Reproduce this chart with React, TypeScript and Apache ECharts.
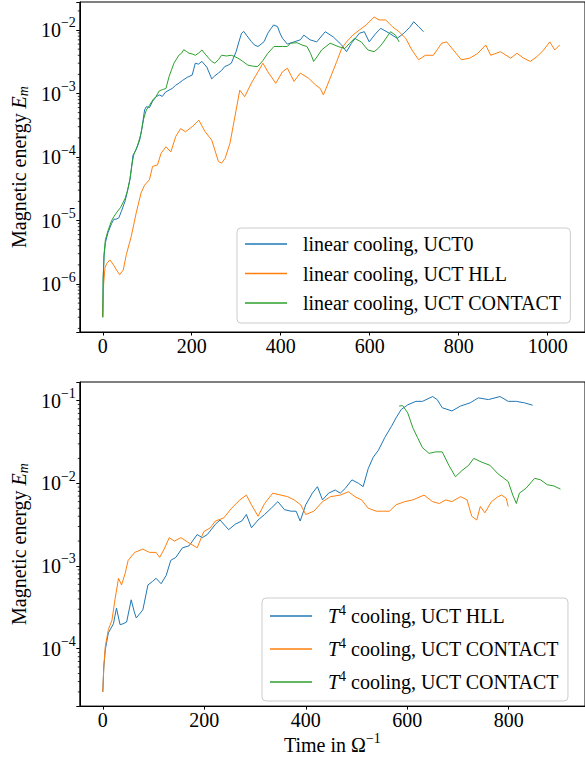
import React, { useEffect, useRef } from 'react';
import * as echarts from 'echarts';

const FONT = '"Liberation Serif", "Times New Roman", Times, serif';
const BLUE = '#1f77b4';
const ORANGE = '#ff7f0e';
const GREEN = '#2ca02c';

// x tick labels
const xTicksTop = [0, 200, 400, 600, 800, 1000];
const xTicksBottom = [0, 200, 400, 600, 800];

// Top panel: linear cooling  [time, Em]
const linUct0: [number, number][] = [
  [0, 3e-7], [1, 1.2e-6], [3, 2.8e-6], [6, 4.5e-6], [12, 6.5e-6], [20, 9e-6], [25, 1.05e-5], [30, 1.05e-5],
  [36, 1.1e-5], [42, 1.4e-5], [50, 2e-5], [55, 2.8e-5], [61, 4.4e-5], [65, 7e-5], [68, 1.07e-4], [75, 1.3e-4],
  [83, 1.85e-4], [88, 2.8e-4], [94, 5.5e-4], [98, 6.2e-4], [105, 6e-4], [112, 7.5e-4], [120, 8.9e-4], [127, 9.5e-4],
  [134, 9e-4], [141, 1.05e-3], [149, 1.13e-3], [156, 1.2e-3], [164, 1.35e-3], [171, 1.45e-3], [179, 1.6e-3],
  [190, 1.8e-3], [201, 1.95e-3], [208, 3e-3], [215, 2.9e-3], [223, 3.2e-3], [234, 2.6e-3], [245, 1.7e-3],
  [252, 1.9e-3], [260, 2.1e-3], [267, 2.3e-3], [274, 2.65e-3], [282, 2.8e-3], [289, 3e-3], [295, 3.8e-3],
  [300, 4.6e-3], [306, 6.5e-3], [312, 8.9e-3], [317, 9.5e-3], [323, 8.3e-3], [334, 6.6e-3], [341, 5.8e-3],
  [349, 5.5e-3], [356, 6e-3], [363, 6.6e-3], [371, 8.9e-3], [378, 1.05e-2], [384, 1.2e-2], [393, 1.13e-2],
  [398, 9e-3], [404, 7.4e-3], [415, 6e-3], [430, 6.5e-3], [444, 7e-3], [452, 8.3e-3], [466, 7e-3], [481, 6.5e-3],
  [500, 9.4e-3], [518, 7.8e-3], [537, 5.8e-3], [548, 4.55e-3], [559, 6.2e-3], [577, 8.9e-3], [588, 9.4e-3],
  [599, 6.5e-3], [614, 8.9e-3], [625, 1.06e-2], [644, 8.9e-3], [662, 7.4e-3], [677, 8.9e-3], [690, 1.1e-2],
  [699, 1.35e-2], [710, 1.13e-2], [721, 9.4e-3],
];

const linHll: [number, number][] = [
  [0, 3e-7], [2, 1e-6], [5, 1.8e-6], [9, 2.1e-6], [16, 2.4e-6], [24, 2e-6], [31, 1.66e-6], [38, 1.4e-6],
  [46, 1.66e-6], [53, 2.9e-6], [64, 5.6e-6], [75, 1.3e-5], [86, 2.7e-5], [94, 3.6e-5], [105, 4.4e-5],
  [112, 7.1e-5], [123, 7.5e-5], [131, 1.14e-4], [142, 1.45e-4], [153, 1.2e-4], [164, 2.1e-4], [175, 2.8e-4],
  [186, 2.5e-4], [201, 3e-4], [216, 3.8e-4], [230, 2.5e-4], [245, 1.85e-4], [260, 8.5e-5], [267, 8e-5],
  [275, 9.5e-5], [286, 1.65e-4], [297, 4.3e-4], [308, 1.13e-3], [319, 8.9e-4], [334, 1.45e-3], [349, 2.2e-3],
  [360, 3e-3], [371, 2.2e-3], [389, 1.45e-3], [404, 2.2e-3], [415, 2.5e-3], [430, 1.55e-3], [444, 2.1e-3],
  [463, 1.73e-3], [478, 1.37e-3], [489, 1.2e-3], [496, 9.5e-4], [511, 1.73e-3], [526, 3.2e-3], [537, 5.1e-3],
  [548, 6.5e-3], [562, 8.3e-3], [577, 1e-2], [592, 1.2e-2], [610, 1.6e-2], [621, 1.44e-2], [636, 1.44e-2],
  [651, 1.13e-2], [666, 9.4e-3], [681, 7.4e-3], [695, 4.85e-3], [710, 3.4e-3], [725, 4e-3], [743, 4e-3],
  [762, 6.2e-3], [773, 6.5e-3], [788, 4.85e-3], [806, 3.4e-3], [825, 3.6e-3], [843, 4.3e-3], [861, 5.8e-3],
  [872, 4e-3], [894, 4.55e-3], [917, 3.6e-3], [931, 4.3e-3], [946, 3.6e-3], [961, 3.2e-3], [976, 3.8e-3],
  [991, 4.85e-3], [1005, 6.5e-3], [1016, 4.85e-3], [1027, 5.8e-3],
];

const linContact: [number, number][] = [
  [0, 3e-7], [1, 1.3e-6], [3, 3e-6], [6, 5e-6], [12, 7e-6], [20, 1e-5], [25, 1.15e-5], [30, 1.3e-5],
  [40, 1.6e-5], [50, 2.2e-5], [56, 3e-5], [61, 4.4e-5], [66, 8e-5], [70, 1.1e-4], [78, 1.5e-4], [85, 2.2e-4],
  [92, 4e-4], [98, 5.5e-4], [105, 6.5e-4], [113, 8e-4], [120, 9e-4], [127, 1.1e-3], [134, 1.15e-3],
  [142, 1.2e-3], [149, 1.84e-3], [155, 2.4e-3], [160, 3e-3], [166, 3.5e-3], [171, 4e-3], [177, 4.3e-3],
  [182, 4.9e-3], [188, 4.6e-3], [194, 4.3e-3], [201, 4.2e-3], [208, 4e-3], [215, 4.3e-3], [223, 4.85e-3],
  [230, 4.2e-3], [238, 3.6e-3], [245, 3.2e-3], [252, 3e-3], [260, 3.4e-3], [267, 4e-3], [278, 3.9e-3],
  [289, 4e-3], [297, 3.8e-3], [304, 3.6e-3], [315, 3.2e-3], [326, 2.8e-3], [337, 2.7e-3], [348, 2.65e-3],
  [360, 3.3e-3], [371, 4.3e-3], [385, 5.5e-3], [404, 5.5e-3], [415, 5.5e-3], [422, 6.2e-3], [437, 6.3e-3],
  [448, 5.8e-3], [459, 5.5e-3], [467, 4.3e-3], [474, 3.2e-3], [483, 3.9e-3], [492, 4.85e-3], [511, 6.2e-3],
  [529, 5.5e-3], [544, 5.1e-3], [555, 6.2e-3], [566, 7.4e-3], [581, 6.5e-3], [596, 4.85e-3], [610, 4.55e-3],
  [620, 5.2e-3], [629, 6.2e-3], [647, 9.4e-3], [658, 8.3e-3], [666, 6.5e-3],
];

// Bottom panel: T^4 cooling  [time, Em]
const t4Hll: [number, number][] = [
  [0, 3e-5], [2, 6e-5], [5, 9.8e-5], [11, 1.55e-4], [21, 2e-4], [27, 3.1e-4], [34, 1.95e-4], [40, 2e-4],
  [47, 2.1e-4], [56, 3.9e-4], [62, 2.8e-4], [66, 2.35e-4], [79, 2.95e-4], [89, 5.9e-4], [98, 6.5e-4],
  [105, 7.1e-4], [115, 6.1e-4], [125, 7.7e-4], [134, 1.17e-3], [144, 1.27e-3], [157, 1.66e-3], [170, 1.75e-3],
  [186, 2.4e-3], [196, 2.2e-3], [206, 2.4e-3], [222, 3.2e-3], [231, 3.6e-3], [248, 2.75e-3], [261, 3.2e-3],
  [274, 3.5e-3], [283, 4.2e-3], [293, 2.9e-3], [306, 3.6e-3], [319, 4.2e-3], [332, 5e-3], [345, 6e-3],
  [358, 4.8e-3], [371, 4.6e-3], [381, 4.6e-3], [389, 3.5e-3], [400, 5.5e-3], [413, 7.6e-3], [423, 9.1e-3],
  [433, 6.3e-3], [445, 7.6e-3], [458, 8.3e-3], [468, 7.6e-3], [478, 8.7e-3], [491, 1.1e-2], [504, 1e-2],
  [513, 9.1e-3], [523, 1.5e-2], [533, 2.07e-2], [543, 2.5e-2], [556, 3.6e-2], [569, 4.9e-2], [578, 6.2e-2],
  [588, 7.8e-2], [601, 8.9e-2], [617, 9.8e-2], [630, 9.8e-2], [650, 1.12e-1], [659, 1.03e-1], [669, 8.2e-2],
  [688, 7.5e-2], [705, 8.6e-2], [724, 9.4e-2], [740, 1.08e-1], [760, 1.03e-1], [783, 1.12e-1], [799, 9.8e-2],
  [815, 9.8e-2], [831, 9.4e-2], [847, 8.8e-2],
];

const t4Contact: [number, number][] = [
  [0, 3e-5], [2, 6e-5], [5, 1.07e-4], [11, 1.7e-4], [18, 2.2e-4], [24, 3.9e-4], [31, 7.1e-4], [37, 5.9e-4],
  [44, 8.1e-4], [50, 1.17e-3], [63, 1.46e-3], [79, 1.6e-3], [92, 1.46e-3], [105, 1.46e-3], [112, 1.27e-3],
  [121, 1.6e-3], [131, 2.2e-3], [141, 2e-3], [154, 2.2e-3], [170, 1.9e-3], [186, 1.66e-3], [199, 2.6e-3],
  [212, 2.9e-3], [222, 3.5e-3], [238, 3.8e-3], [254, 5e-3], [270, 6.3e-3], [283, 7.2e-3], [293, 5.5e-3],
  [306, 4e-3], [319, 5.7e-3], [335, 7.6e-3], [351, 7.2e-3], [364, 6.9e-3], [377, 6.3e-3], [390, 5.5e-3],
  [400, 4.2e-3], [416, 4.6e-3], [433, 6e-3], [449, 6.9e-3], [468, 7.2e-3], [484, 7.9e-3], [497, 6.9e-3],
  [510, 6.3e-3], [523, 5e-3], [539, 4.6e-3], [552, 4.6e-3], [565, 4.6e-3], [578, 5.5e-3], [595, 6e-3],
  [611, 6.3e-3], [633, 7.2e-3], [650, 6e-3], [663, 5.7e-3], [676, 6.3e-3], [688, 6e-3], [705, 6.9e-3],
  [718, 6.3e-3], [727, 4e-3], [737, 3.6e-3], [744, 5.25e-3], [753, 4.4e-3], [766, 6e-3], [779, 6.9e-3],
  [786, 7.2e-3], [795, 6.6e-3], [799, 5.25e-3],
];

const t4Contact2: [number, number][] = [
  [584, 8.6e-2], [591, 8.7e-2], [601, 7.1e-2], [611, 4.7e-2], [620, 3.6e-2], [630, 2.7e-2], [643, 2.3e-2],
  [656, 2.4e-2], [669, 2.4e-2], [682, 1.65e-2], [695, 1.2e-2], [708, 1.43e-2], [721, 1.65e-2], [731, 2e-2],
  [747, 1.8e-2], [763, 1.65e-2], [779, 1.3e-2], [799, 1.05e-2], [808, 7.2e-3], [815, 5.7e-3], [821, 7.6e-3],
  [834, 8.7e-3], [851, 1.15e-2], [863, 1.1e-2], [876, 9.6e-3], [889, 9.3e-3], [902, 8.5e-3],
];

const topNames = ['linear cooling, UCT0', 'linear cooling, UCT HLL', 'linear cooling, UCT CONTACT'];
const bottomNames = ['T4 cooling, UCT HLL', 'T4 cooling, UCT CONTACT', 'T4 cooling, UCT CONTACT (2)'];
const bottomLabels: Record<string, string> = {
  'T4 cooling, UCT HLL': '{t|T}{s|4}{n| cooling, UCT HLL}',
  'T4 cooling, UCT CONTACT': '{t|T}{s|4}{n| cooling, UCT CONTACT}',
  'T4 cooling, UCT CONTACT (2)': '{t|T}{s|4}{n| cooling, UCT CONTACT}',
};

const TOP_X = [-51.6, 1084];
const BOT_X = [-45.3, 950.3];
const TOP_Y = [1.755e-7, 0.0276];
const BOT_Y = [2.02e-5, 0.168];

function minorValues(lo: number, hi: number): number[] {
  const out: number[] = [];
  for (let k = -8; k <= 0; k++) {
    for (let m = 2; m <= 9; m++) {
      const v = m * Math.pow(10, k);
      if (v >= lo && v <= hi) out.push(v);
    }
  }
  return out;
}

const powLabel = (v: number) => {
  const e = Math.log10(v);
  const r = Math.round(e);
  if (Math.abs(e - r) > 1e-6) return '';
  return `{b|10}{s|${r < 0 ? '\u2212' : ''}${Math.abs(r)}}`;
};

const supRich = {
  b: { fontFamily: FONT, fontSize: 20, lineHeight: 20, color: '#000' },
  s: { fontFamily: FONT, fontSize: 14, lineHeight: 14, color: '#000', padding: [0, 0, 14, 0] },
};

function xAxisCfg(grid: number, ext: number[], ticks: number[], withName: boolean) {
  return {
    gridIndex: grid,
    type: 'value',
    min: ext[0],
    max: ext[1],
    axisLine: { show: true, onZero: false, lineStyle: { color: '#000', width: 1 } },
    axisTick: { show: true, length: 3.5, lineStyle: { color: '#000', width: 1 }, customValues: ticks },
    axisLabel: {
      customValues: ticks,
      formatter: (v: number) => String(Math.round(v)),
      fontFamily: FONT, fontSize: 20, lineHeight: 20, color: '#000', margin: 4,
    },
    splitLine: { show: false },
    ...(withName
      ? {
          name: 'Time in \u03A9{s|\u22121}',
          nameLocation: 'middle',
          nameGap: 20,
          nameTextStyle: {
            fontFamily: FONT, fontSize: 20, lineHeight: 28, color: '#000',
            rich: { s: { fontFamily: FONT, fontSize: 14, lineHeight: 14, color: '#000', padding: [0, 0, 14, 0] } },
          },
        }
      : {}),
  };
}

function yAxisCfg(grid: number, ext: number[]) {
  return {
    gridIndex: grid,
    type: 'log',
    logBase: 10,
    min: ext[0],
    max: ext[1],
    axisLine: { show: true, onZero: false, lineStyle: { color: '#000', width: 1 } },
    axisTick: { show: true, length: 3.5, lineStyle: { color: '#000', width: 1 } },
    axisLabel: { formatter: powLabel, rich: supRich, margin: 4, color: '#000' },
    splitLine: { show: false },
    minorTick: { show: false },
    name: 'Magnetic energy {i|E}{m|m}',
    nameLocation: 'middle',
    nameGap: 48,
    nameTextStyle: {
      fontFamily: FONT, fontSize: 20, lineHeight: 22, color: '#000',
      rich: {
        i: { fontFamily: FONT, fontSize: 20, lineHeight: 22, fontStyle: 'italic', color: '#000' },
        m: { fontFamily: FONT, fontSize: 14, lineHeight: 14, fontStyle: 'italic', color: '#000', padding: [8, 0, 0, 0] },
      },
    },
  };
}

function lineSeries(name: string, data: [number, number][], color: string, idx: number) {
  return {
    type: 'line',
    name,
    xAxisIndex: idx,
    yAxisIndex: idx,
    data,
    symbol: 'none',
    showSymbol: false,
    lineStyle: { width: 1, color },
    itemStyle: { color },
    color,
    clip: true,
    silent: true,
  };
}

function minorSeries(idx: number, xmin: number, ext: number[]) {
  return {
    type: 'custom',
    xAxisIndex: idx,
    yAxisIndex: idx,
    silent: true,
    clip: false,
    z: 5,
    data: minorValues(ext[0], ext[1]).map((v) => [xmin, v]),
    renderItem: (_p: any, api: any) => {
      const p = api.coord([api.value(0), api.value(1)]);
      return {
        type: 'line',
        shape: { x1: p[0] - 2, y1: p[1], x2: p[0], y2: p[1] },
        style: { stroke: '#000', lineWidth: 0.8 },
      };
    },
  };
}

const legendBase = {
  orient: 'vertical',
  icon: 'rect',
  itemWidth: 42,
  itemHeight: 1.4,
  backgroundColor: 'rgba(255,255,255,0.8)',
  borderColor: '#cccccc',
  borderWidth: 1,
  borderRadius: 4,
  selectedMode: false,
};

export default function App() {
  const ref = useRef<HTMLDivElement>(null);
  useEffect(() => {
    if (!ref.current) return;
    const chart = echarts.init(ref.current, undefined, { renderer: 'svg' });
    const option: any = {
      animation: false,
      backgroundColor: '#fff',
      grid: [
        { left: 76, top: 2, width: 513, height: 330, show: true, borderColor: '#000', borderWidth: 1, containLabel: false },
        { left: 76, top: 382, width: 512, height: 329, show: true, borderColor: '#000', borderWidth: 1, containLabel: false },
      ],
      xAxis: [xAxisCfg(0, TOP_X, xTicksTop, false), xAxisCfg(1, BOT_X, xTicksBottom, true)],
      yAxis: [yAxisCfg(0, TOP_Y), yAxisCfg(1, BOT_Y)],
      legend: [
        {
          ...legendBase,
          left: 237,
          top: 228,
          data: topNames,
          itemGap: 7.5,
          padding: [5, 9, 9, 8],
          textStyle: { fontFamily: FONT, fontSize: 20, lineHeight: 22, color: '#000', padding: [0, 0, 0, 11] },
        },
        {
          ...legendBase,
          left: 262,
          top: 598,
          data: bottomNames,
          itemGap: 7,
          padding: [5, 9, 6, 8],
          formatter: (n: string) => bottomLabels[n] || n,
          textStyle: {
            fontFamily: FONT, fontSize: 20, lineHeight: 26, color: '#000', padding: [0, 0, 0, 11],
            rich: {
              t: { fontFamily: FONT, fontSize: 20, lineHeight: 26, fontStyle: 'italic', color: '#000' },
              s: { fontFamily: FONT, fontSize: 14, lineHeight: 14, color: '#000', padding: [0, 0, 12, 0] },
              n: { fontFamily: FONT, fontSize: 20, lineHeight: 26, color: '#000' },
            },
          },
        },
      ],
      series: [
        lineSeries(topNames[0], linUct0, BLUE, 0),
        lineSeries(topNames[1], linHll, ORANGE, 0),
        lineSeries(topNames[2], linContact, GREEN, 0),
        lineSeries(bottomNames[0], t4Hll, BLUE, 1),
        lineSeries(bottomNames[1], t4Contact, ORANGE, 1),
        lineSeries(bottomNames[2], t4Contact2, GREEN, 1),
        minorSeries(0, TOP_X[0], TOP_Y),
        minorSeries(1, BOT_X[0], BOT_Y),
      ],
    };
    chart.setOption(option);
    return () => chart.dispose();
  }, []);
  return <div ref={ref} style={{ position: 'absolute', left: 0, top: 0, width: 585, height: 760 }} />;
}
